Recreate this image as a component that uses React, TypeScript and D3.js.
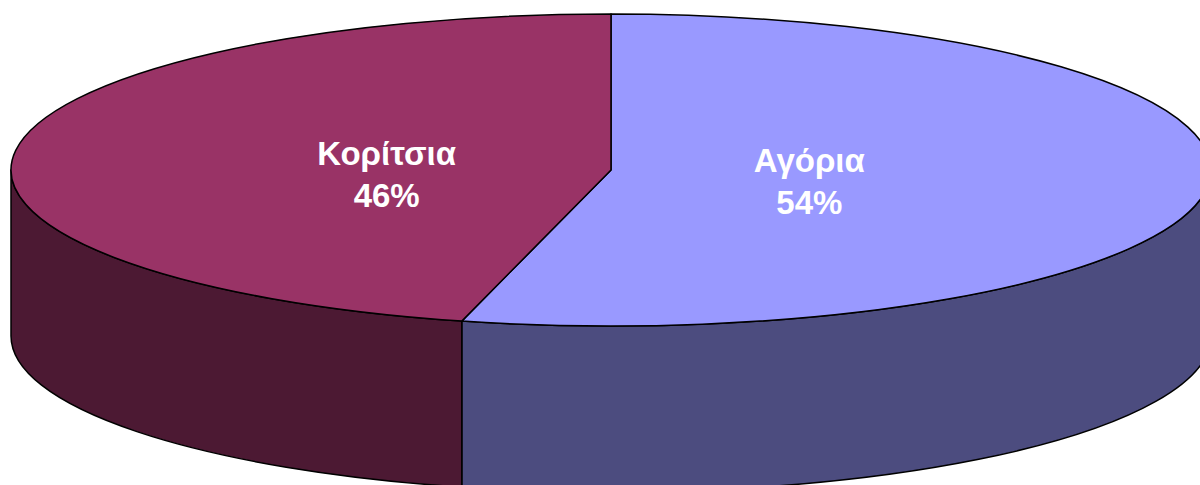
import * as d3 from 'd3';
import { useEffect, useRef } from 'react';

const labels = ['Αγόρια', 'Κορίτσια'];
const values = [54, 46];
const topColors = ['#9999FF', '#993366'];
const sideColors = ['#4C4C7F', '#4C1933'];

const App = () => {
  const ref = useRef<SVGSVGElement | null>(null);

  useEffect(() => {
    if (!ref.current) return;
    const svg = d3.select(ref.current);
    svg.selectAll('*').remove();

    const width = 1200;
    const height = 485;
    const cx = 611;
    const cy = 170;
    const rx = 600;
    const ry = 156;
    const depth = 166;

    svg.attr('width', width).attr('height', height);

    const pie = d3.pie<number>().sort(null).value(d => d);
    const arcs = pie(values);

    // angle measured clockwise from 12 o'clock
    const px = (a: number) => cx + rx * Math.sin(a);
    const py = (a: number) => cy - ry * Math.cos(a);

    const topPath = (a0: number, a1: number) => {
      const large = a1 - a0 > Math.PI ? 1 : 0;
      return `M${cx},${cy}L${px(a0)},${py(a0)}A${rx},${ry} 0 ${large} 1 ${px(a1)},${py(a1)}Z`;
    };

    const sidePath = (a0: number, a1: number) => {
      const s = Math.max(a0, Math.PI / 2);
      const e = Math.min(a1, (3 * Math.PI) / 2);
      if (e <= s) return null;
      return (
        `M${px(s)},${py(s)}A${rx},${ry} 0 0 1 ${px(e)},${py(e)}` +
        `L${px(e)},${py(e) + depth}A${rx},${ry} 0 0 0 ${px(s)},${py(s) + depth}Z`
      );
    };

    const g = svg.append('g');

    // sides first
    arcs.forEach((d, i) => {
      const p = sidePath(d.startAngle, d.endAngle);
      if (!p) return;
      g.append('path')
        .attr('d', p)
        .attr('fill', sideColors[i])
        .attr('stroke', '#000')
        .attr('stroke-width', 1.5)
        .attr('stroke-linejoin', 'round');
    });

    // tops
    arcs.forEach((d, i) => {
      g.append('path')
        .attr('d', topPath(d.startAngle, d.endAngle))
        .attr('fill', topColors[i])
        .attr('stroke', '#000')
        .attr('stroke-width', 1.5)
        .attr('stroke-linejoin', 'round');
    });

    // labels
    arcs.forEach((d, i) => {
      const mid = (d.startAngle + d.endAngle) / 2;
      const x = cx + rx * 0.355 * Math.sin(mid) - 13;
      const y = cy - ry * 0.18 * Math.cos(mid) + 2.5;
      const t = g.append('text')
        .attr('x', x)
        .attr('y', y)
        .attr('text-anchor', 'middle')
        .attr('fill', '#fff')
        .attr('font-family', 'Liberation Sans, Arial, sans-serif')
        .attr('font-weight', 'bold')
        .attr('font-size', 33);
      t.append('tspan').attr('x', x).attr('dy', '-0.12em').text(labels[i]);
      t.append('tspan').attr('x', x).attr('dy', 42).text(`${d.data}%`);
    });
  }, []);

  return <svg ref={ref} style={{ position: 'absolute', left: 0, top: 0, display: 'block' }} />;
};

export default App;
